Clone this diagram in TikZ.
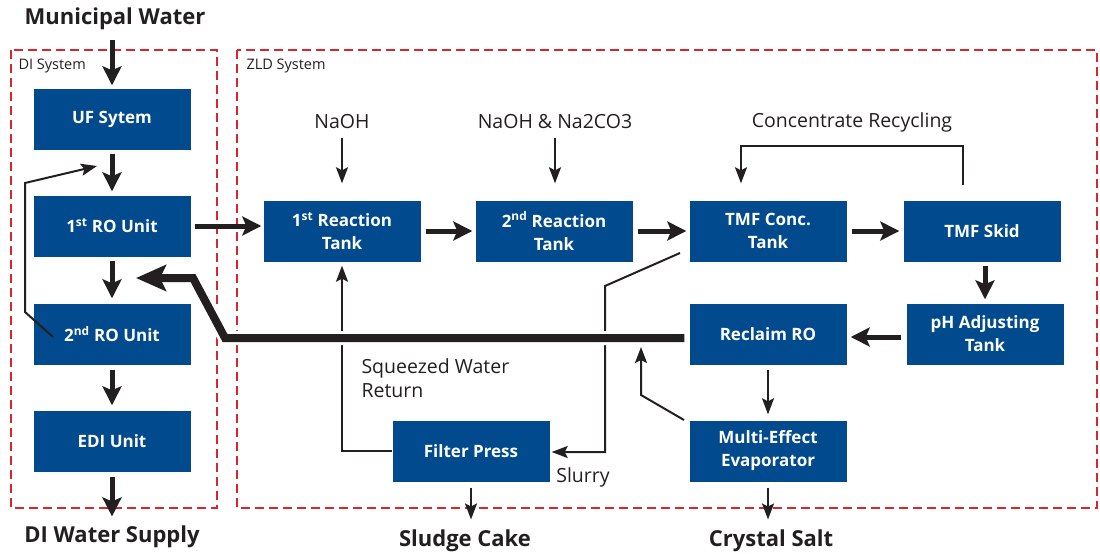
\documentclass[tikz,border=0pt]{standalone}
\usepackage{fontspec}
\setmainfont{Open Sans}
\usetikzlibrary{arrows.meta}

\definecolor{boxblue}{RGB}{0,74,141}
\definecolor{zonered}{RGB}{218,37,45}
\definecolor{flowblack}{RGB}{35,31,32}

\begin{document}
\begin{tikzpicture}[x=1pt,y=-1pt,
  unit/.style={fill=boxblue, text=white, font=\fontsize{17}{23}\selectfont\bfseries,
    align=center, minimum width=157pt, minimum height=61pt, inner sep=0pt},
  zone/.style={draw=zonered, line width=2pt, dash pattern=on 9pt off 5pt},
  zonetitle/.style={anchor=west, font=\fontsize{14.5}{17}\selectfont, text=flowblack},
  feed/.style={font=\fontsize{19.5}{24}\selectfont, text=flowblack},
  product/.style={font=\fontsize{22}{26}\selectfont\bfseries, text=flowblack},
  mainflow/.style={draw=flowblack, line width=5pt, -{Stealth[length=19pt,width=19pt,inset=4pt]}},
  sideflow/.style={draw=flowblack, line width=2pt, -{Stealth[length=16pt,width=12pt,inset=3pt]}},
  returnflow/.style={draw=flowblack, line width=8pt, -{Stealth[length=30pt,width=26pt,inset=6pt]},
    preaction={draw=white, line width=14pt, -}},
]
\useasboundingbox (0,0) rectangle (1100,554);

% system borders
\draw[zone] (11,50) rectangle (217,508);
\draw[zone] (237,50) rectangle (1097,508);
\node[zonetitle] (disys) at (15,66) {DI System};
\node[zonetitle] (zldsys) at (243,66) {ZLD System};

% DI system
\node[unit] (uf) at (112,119) {UF Sytem};
\node[unit] (ro1) at (112,226) {1\textsuperscript{st} RO Unit};
\node[unit] (ro2) at (112,334) {2\textsuperscript{nd} RO Unit};
\node[unit] (edi) at (112,441) {EDI Unit};

% ZLD system
\node[unit] (react1) at (342,231) {1\textsuperscript{st} Reaction\\Tank};
\node[unit] (react2) at (554,231) {2\textsuperscript{nd} Reaction\\Tank};
\node[unit] (tmfconc) at (768,231) {TMF Conc.\\Tank};
\node[unit] (tmfskid) at (982,231) {TMF Skid};
\node[unit] (phtank) at (985,334) {pH Adjusting\\Tank};
\node[unit] (reclaim) at (768,334) {Reclaim RO};
\node[unit] (mee) at (768,451) {Multi-Effect\\Evaporator};
\node[unit] (filter) at (471,451) {Filter Press};

% inputs and outputs
\node[product] (municipal) at (115,19) {Municipal Water};
\node[product] (disupply) at (112,537) {DI Water Supply};
\node[product] (sludge) at (465,541) {Sludge Cake};
\node[product] (salt) at (771,541) {Crystal Salt};
\node[feed] (naoh) at (342,122) {NaOH};
\node[feed] (naco) at (555,122) {NaOH \& Na2CO3};
\node[feed] (recyc) at (852,122) {Concentrate Recycling};
\node[feed, anchor=north west, align=left] (squeeze) at (358,355) {Squeezed Water\\Return};
\node[feed] (slurry) at (583,477) {Slurry};

% bend points
\coordinate (ro2tap) at (53,337);
\coordinate (ro2a) at (25,312);
\coordinate (ro2b) at (25,183);
\coordinate (ufout) at (97,166);
\coordinate (tmftap) at (680,253);
\coordinate (slurrya) at (605,286);
\coordinate (slurryb) at (605,452);
\coordinate (meetap) at (684,420);
\coordinate (meea) at (641,395);
\coordinate (meeb) at (641,347);
\coordinate (bendA) at (225,338);
\coordinate (bendB) at (193,278);
\coordinate (roinlet) at (136,278);

% DI flow
\draw[mainflow, shorten <=6pt, shorten >=3pt] (municipal.south -| uf) -- (uf);
\draw[mainflow, shorten <=4pt, shorten >=4pt] (uf) -- (ro1);
\draw[mainflow, shorten <=4pt, shorten >=5pt] (ro1) -- (ro2);
\draw[mainflow, shorten <=5pt, shorten >=5pt] (ro2) -- (edi);
\draw[mainflow, shorten <=5pt, shorten >=6pt] (edi) -- (disupply);
\draw[sideflow] (ro2tap) -- (ro2a) -- (ro2b) -- (ufout);

% ZLD flow
\draw[mainflow, shorten <=4pt, shorten >=2pt] (ro1.east) -- (react1.west |- ro1.east);
\draw[mainflow, shorten <=5pt, shorten >=3pt] (react1) -- (react2);
\draw[mainflow, shorten <=5pt, shorten >=3pt] (react2) -- (tmfconc);
\draw[mainflow, shorten <=5pt, shorten >=4pt] (tmfconc) -- (tmfskid);
\draw[mainflow, shorten <=4pt, shorten >=4pt] (tmfskid.south -| phtank) -- (phtank);
\draw[mainflow, shorten <=5pt, shorten >=4pt] (phtank.west |- 0,337) -- (reclaim.east |- 0,337);
\draw[sideflow, shorten <=5pt, shorten >=6pt] (reclaim) -- (mee);
\draw[sideflow, shorten <=6pt, shorten >=7pt] (mee) -- (mee |- salt.north);
\draw[sideflow, shorten <=6pt, shorten >=7pt] (filter) -- (filter |- sludge.north);
\draw[sideflow, shorten <=5pt, shorten >=17pt] (naoh) -- (react1);
\draw[sideflow, shorten <=5pt, shorten >=17pt] (naco) -- (react2.north -| naco);
\draw[sideflow] ([xshift=-19pt,yshift=15pt]tmfskid.north) -- ++(0,-39)
  -| ([xshift=-27pt,yshift=17pt]tmfconc.north);
\draw[sideflow, shorten >=4pt] (filter.west) -| (react1.south);
\draw[sideflow, shorten >=2pt] (tmftap) -- (slurrya) -- (slurryb) -- (filter.east |- slurryb);

% recovered water back to DI
\draw[returnflow, shorten <=5pt] (reclaim.west |- bendA) -- (bendA) -- (bendB) -- (roinlet);
\draw[sideflow] (meetap) -- (meea) -- (meeb);

\end{tikzpicture}
\end{document}
